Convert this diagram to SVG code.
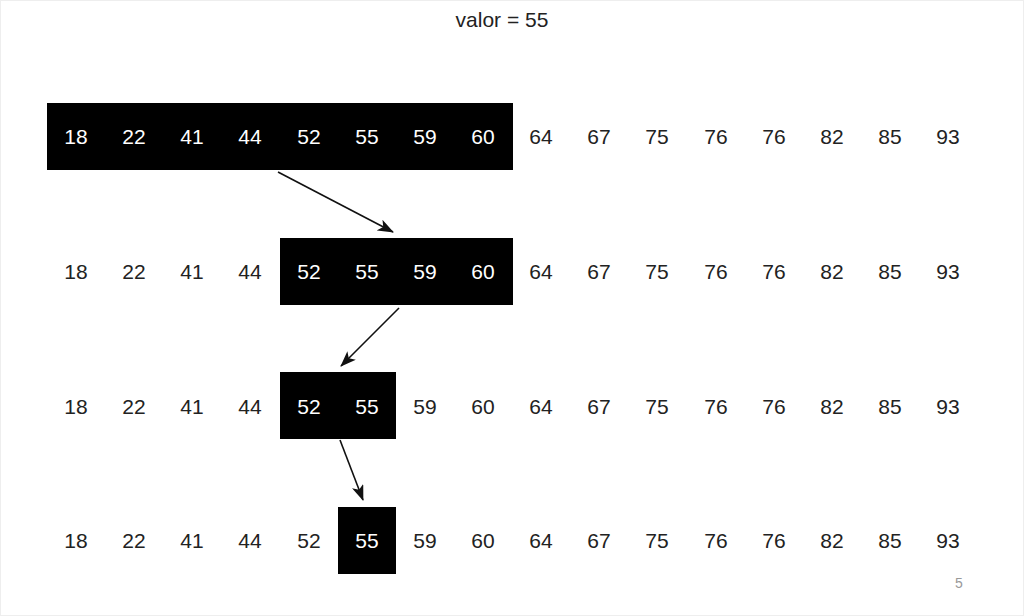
<svg xmlns="http://www.w3.org/2000/svg" width="1024" height="616" viewBox="0 0 1024 616">
<defs>
<style>
text{font-family:"Liberation Sans",Arial,sans-serif;font-size:21px;text-anchor:middle}
.n{fill:#222}
.w{fill:#fff}
.box{fill:#000}
.c{stroke:#111;stroke-width:1.6;fill:none;marker-end:url(#ah)}
</style>
<marker id="ah" viewBox="0 0 16 12" refX="15" refY="6" markerWidth="16" markerHeight="12" markerUnits="userSpaceOnUse" orient="auto">
<path d="M0,0 L16,6 L0,12 L4,6 Z" fill="#111"/>
</marker>
</defs>
<rect width="1024" height="616" fill="#fff"/>
<rect x="0.5" y="0.5" width="1023" height="615" fill="none" stroke="#eee"/>
<text x="502" y="27" class="n">valor = 55</text>
<g id="row1">
<rect class="box" x="47" y="103" width="466" height="67"/>
<text class="w" x="76" y="144">18</text><text class="w" x="134" y="144">22</text><text class="w" x="192" y="144">41</text><text class="w" x="250" y="144">44</text><text class="w" x="309" y="144">52</text><text class="w" x="367" y="144">55</text><text class="w" x="425" y="144">59</text><text class="w" x="483" y="144">60</text>
<text class="n" x="541" y="144">64</text><text class="n" x="599" y="144">67</text><text class="n" x="657" y="144">75</text><text class="n" x="716" y="144">76</text><text class="n" x="774" y="144">76</text><text class="n" x="832" y="144">82</text><text class="n" x="890" y="144">85</text><text class="n" x="948" y="144">93</text>
</g>
<g id="row2">
<rect class="box" x="280" y="238" width="233" height="67"/>
<text class="n" x="76" y="279">18</text><text class="n" x="134" y="279">22</text><text class="n" x="192" y="279">41</text><text class="n" x="250" y="279">44</text><text class="w" x="309" y="279">52</text><text class="w" x="367" y="279">55</text><text class="w" x="425" y="279">59</text><text class="w" x="483" y="279">60</text>
<text class="n" x="541" y="279">64</text><text class="n" x="599" y="279">67</text><text class="n" x="657" y="279">75</text><text class="n" x="716" y="279">76</text><text class="n" x="774" y="279">76</text><text class="n" x="832" y="279">82</text><text class="n" x="890" y="279">85</text><text class="n" x="948" y="279">93</text>
</g>
<g id="row3">
<rect class="box" x="280" y="372" width="116" height="67"/>
<text class="n" x="76" y="414">18</text><text class="n" x="134" y="414">22</text><text class="n" x="192" y="414">41</text><text class="n" x="250" y="414">44</text><text class="w" x="309" y="414">52</text><text class="w" x="367" y="414">55</text><text class="n" x="425" y="414">59</text><text class="n" x="483" y="414">60</text>
<text class="n" x="541" y="414">64</text><text class="n" x="599" y="414">67</text><text class="n" x="657" y="414">75</text><text class="n" x="716" y="414">76</text><text class="n" x="774" y="414">76</text><text class="n" x="832" y="414">82</text><text class="n" x="890" y="414">85</text><text class="n" x="948" y="414">93</text>
</g>
<g id="row4">
<rect class="box" x="338" y="507" width="58" height="67"/>
<text class="n" x="76" y="548">18</text><text class="n" x="134" y="548">22</text><text class="n" x="192" y="548">41</text><text class="n" x="250" y="548">44</text><text class="n" x="309" y="548">52</text><text class="w" x="367" y="548">55</text><text class="n" x="425" y="548">59</text><text class="n" x="483" y="548">60</text>
<text class="n" x="541" y="548">64</text><text class="n" x="599" y="548">67</text><text class="n" x="657" y="548">75</text><text class="n" x="716" y="548">76</text><text class="n" x="774" y="548">76</text><text class="n" x="832" y="548">82</text><text class="n" x="890" y="548">85</text><text class="n" x="948" y="548">93</text>
</g>
<g id="connectors">
<line class="c" x1="278" y1="172" x2="393" y2="232"/>
<line class="c" x1="399" y1="308" x2="341" y2="366"/>
<line class="c" x1="340" y1="440" x2="363" y2="500"/>
</g>
<text x="959" y="588" style="font-size:14px;fill:#999">5</text>
</svg>
